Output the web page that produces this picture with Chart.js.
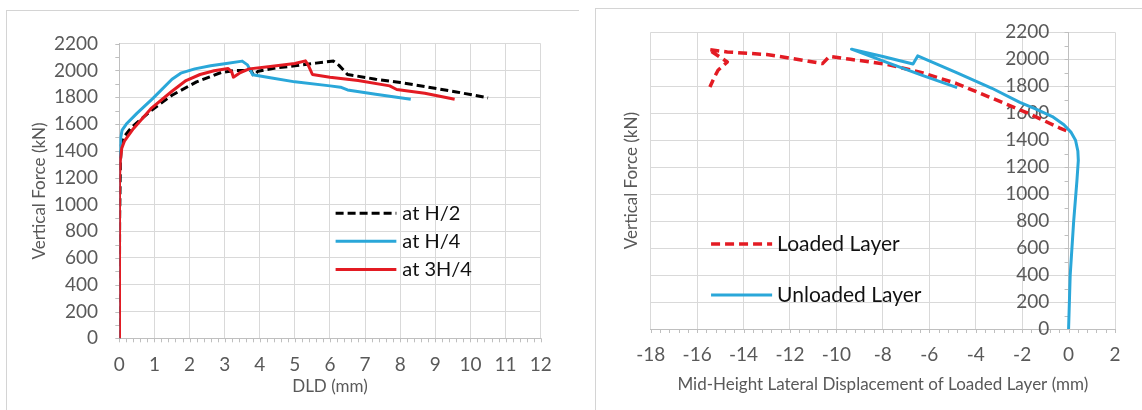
<!DOCTYPE html>
<html>
<head>
<meta charset="utf-8">
<script src="https://cdn.jsdelivr.net/npm/chart.js@4.4.1/dist/chart.umd.min.js"></script>
<style>
  html, body { margin: 0; padding: 0; background: #fff; overflow: hidden; }
  body { width: 1142px; height: 410px; position: relative; }
  .panel { position: absolute; border-left: 1px solid #d4d4d4; border-top: 1px solid #d4d4d4; }
  #left-panel { left: 6px; top: 10px; width: 572px; height: 420px; }
  #right-panel { left: 595px; top: 8px; width: 560px; height: 420px; }
  canvas { position: absolute; left: 0; top: 0; }
</style>
</head>
<body>
<div class="panel" id="left-panel"><canvas id="dld-chart" width="560" height="400"></canvas></div>
<div class="panel" id="right-panel"><canvas id="lateral-chart" width="546" height="400"></canvas></div>
<script>
// Left chart: vertical force vs DLD
const h2X  = [0, 0.01, 0.03, 0.06, 0.12, 0.35, 0.9, 1.5, 2.2, 2.9, 3.3, 3.75, 3.83, 3.95, 4.5, 5.0, 5.6, 6.1, 6.25, 6.5, 7.3, 8.0, 8.7, 9.6, 10.5];
const h2Y  = [0, 900, 1300, 1450, 1500, 1575, 1700, 1815, 1915, 1985, 2000, 2000, 1960, 1995, 2020, 2035, 2055, 2070, 2040, 1970, 1935, 1910, 1880, 1840, 1795];
const h4X  = [0, 0, 0.01, 0.02, 0.04, 0.08, 0.2, 0.5, 0.95, 1.5, 1.75, 2.15, 2.6, 3.0, 3.5, 3.65, 3.8, 4.3, 5.0, 6.0, 6.3, 6.5, 7.3, 8.3];
const h4Y  = [0, 800, 1250, 1400, 1500, 1555, 1600, 1680, 1790, 1935, 1980, 2012, 2035, 2050, 2070, 2042, 1968, 1945, 1915, 1885, 1875, 1855, 1822, 1785];
const h34X = [0, 0, 0.01, 0.03, 0.07, 0.15, 0.4, 0.9, 1.5, 1.9, 2.3, 2.7, 3.1, 3.2, 3.25, 3.45, 3.7, 4.3, 5.0, 5.3, 5.38, 5.5, 6.0, 6.8, 7.7, 7.9, 8.7, 9.55];
const h34Y = [0, 800, 1200, 1330, 1420, 1475, 1565, 1715, 1845, 1925, 1970, 1998, 2015, 1990, 1950, 1985, 2012, 2030, 2052, 2072, 2040, 1970, 1950, 1925, 1885, 1858, 1830, 1785];

// Right chart: vertical force vs mid-height lateral displacement
const loadedX   = [-0.1, -0.4, -1.75, -3.3, -4.85, -6.4, -7.9, -9.4, -10.3, -10.6, -11.2, -12.5, -13.0, -14.7, -15.5, -14.7, -15.1, -15.25, -15.45];
const loadedY   = [1470, 1492, 1600, 1712, 1822, 1905, 1965, 2000, 2022, 1968, 1985, 2022, 2035, 2054, 2072, 1980, 1919, 1869, 1795];
const unloadedX = [0, 0.07, 0.22, 0.36, 0.42, 0.4, 0.3, 0.1, -0.2, -0.7, -1.4, -2.1, -3.3, -4.8, -6.5, -6.7, -8.0, -9.35, -7.8, -6.3, -4.8];
const unloadedY = [0, 400, 800, 1100, 1250, 1320, 1400, 1460, 1515, 1575, 1630, 1680, 1785, 1900, 2025, 1965, 2020, 2075, 1975, 1880, 1790];

const toPoints = (xs, ys) => xs.map((x, i) => ({ x: x, y: ys[i] }));

const FONT = 'Lato, "Open Sans", sans-serif';
const TEXT = '#595959';
const GRID = '#d9d9d9';
const AXIS = '#bfbfbf';
const BLUE = '#2aa7d9';
const RED = '#e31b23';

Chart.defaults.font.family = FONT;
Chart.defaults.color = TEXT;

// small minor tick marks along the axes, like the spreadsheet original
const minorTicks = {
  id: 'minorTicks',
  beforeDatasetsDraw(chart, args, opts) {
    const { ctx, chartArea } = chart;
    const x = chart.scales.x, y = chart.scales.y;
    const yAxisX = opts.yAt === undefined ? chartArea.left : x.getPixelForValue(opts.yAt);
    ctx.save();
    ctx.strokeStyle = AXIS;
    ctx.lineWidth = 1;
    ctx.beginPath();
    const nx = Math.round((x.max - x.min) / opts.xStep);
    for (let i = 0; i <= nx; i++) {
      const px = Math.round(x.getPixelForValue(x.min + i * opts.xStep)) + 0.5;
      ctx.moveTo(px, chartArea.bottom);
      ctx.lineTo(px, chartArea.bottom + opts.len);
    }
    const ny = Math.round((y.max - y.min) / opts.yStep);
    for (let i = 0; i <= ny; i++) {
      const py = Math.round(y.getPixelForValue(y.min + i * opts.yStep)) + 0.5;
      ctx.moveTo(yAxisX - opts.len, py);
      ctx.lineTo(yAxisX, py);
    }
    ctx.stroke();
    ctx.restore();
  }
};

// legend drawn inside the plot area
const insideLegend = {
  id: 'insideLegend',
  afterDatasetsDraw(chart, args, opts) {
    const { ctx } = chart;
    const x = chart.scales.x, y = chart.scales.y;
    const x1 = x.getPixelForValue(opts.from);
    const x2 = x.getPixelForValue(opts.to);
    ctx.save();
    chart.data.datasets.forEach(function (ds, i) {
      const py = y.getPixelForValue(opts.rows[i]);
      ctx.beginPath();
      ctx.setLineDash(ds.borderDash || []);
      ctx.strokeStyle = ds.borderColor;
      ctx.lineWidth = ds.borderWidth;
      ctx.moveTo(x1, py);
      ctx.lineTo(x2, py);
      ctx.stroke();
      ctx.setLineDash([]);
      ctx.fillStyle = '#111';
      ctx.font = opts.fontSize + 'px ' + FONT;
      ctx.textBaseline = 'middle';
      ctx.textAlign = 'left';
      ctx.fillText(ds.label, x2 + opts.gap, py);
    });
    ctx.restore();
  }
};

const plain = (v) => String(v);

new Chart(document.getElementById('dld-chart'), {
  type: 'scatter',
  data: {
    datasets: [
      { label: 'at H/2', data: toPoints(h2X, h2Y), borderColor: '#000', borderDash: [8, 4], borderWidth: 3, showLine: true, order: 2 },
      { label: 'at H/4', data: toPoints(h4X, h4Y), borderColor: BLUE, borderWidth: 3, showLine: true, order: 1 },
      { label: 'at 3H/4', data: toPoints(h34X, h34Y), borderColor: RED, borderWidth: 3, showLine: true, order: 0 }
    ]
  },
  options: {
    responsive: false,
    animation: false,
    devicePixelRatio: 1,
    elements: { point: { radius: 0 }, line: { tension: 0, borderJoinStyle: 'round' } },
    layout: { padding: { left: 0, top: 13, right: 16.3, bottom: 2.7 } },
    plugins: {
      legend: { display: false },
      tooltip: { enabled: false },
      minorTicks: { xStep: 0.2, yStep: 100, len: 4 },
      insideLegend: { from: 6.16, to: 7.89, rows: [934, 724, 513], gap: 6, fontSize: 20 }
    },
    scales: {
      x: {
        type: 'linear', min: 0, max: 12,
        ticks: { stepSize: 1, padding: 15.3, font: { size: 19 }, autoSkip: false, maxRotation: 0, callback: plain },
        grid: { color: GRID, drawTicks: false },
        border: { color: AXIS },
        title: { display: true, text: 'DLD (mm)', font: { size: 17 }, padding: { top: 0, bottom: 11.1 } },
        afterFit: (s) => { s.height = 70; }
      },
      y: {
        type: 'linear', min: 0, max: 2200,
        ticks: { stepSize: 200, padding: 21.3, font: { size: 19 }, autoSkip: false, callback: plain },
        grid: { color: GRID, drawTicks: false },
        border: { color: AXIS },
        title: { display: true, text: 'Vertical Force (kN)', font: { size: 17 }, padding: { top: 22.8, bottom: 0 } },
        afterFit: (s) => { s.width = 112.3; }
      }
    }
  },
  plugins: [minorTicks, insideLegend]
});

new Chart(document.getElementById('lateral-chart'), {
  type: 'scatter',
  data: {
    datasets: [
      { label: 'Loaded Layer', data: toPoints(loadedX, loadedY), borderColor: RED, borderDash: [9, 5], borderWidth: 3.5, showLine: true, order: 1 },
      { label: 'Unloaded Layer', data: toPoints(unloadedX, unloadedY), borderColor: BLUE, borderWidth: 3, showLine: true, order: 0 }
    ]
  },
  options: {
    responsive: false,
    animation: false,
    devicePixelRatio: 1,
    elements: { point: { radius: 0 }, line: { tension: 0, borderJoinStyle: 'round' } },
    layout: { padding: { left: 0, top: 23.3, right: 27, bottom: 10 } },
    plugins: {
      legend: { display: false },
      tooltip: { enabled: false },
      minorTicks: { xStep: 0.4, yStep: 100, len: 4, yAt: 0 },
      insideLegend: { from: -15.4, to: -12.77, rows: [630, 252], gap: 5, fontSize: 21 }
    },
    scales: {
      x: {
        type: 'linear', min: -18, max: 2,
        ticks: { stepSize: 2, padding: 14.6, font: { size: 19 }, autoSkip: false, maxRotation: 0, callback: plain },
        grid: { color: GRID, drawTicks: false },
        border: { color: AXIS },
        title: { display: true, text: 'Mid-Height Lateral Displacement of Loaded Layer (mm)', font: { size: 17 }, padding: { top: 0, bottom: 3.8 } },
        afterFit: (s) => { s.height = 70; }
      },
      // force axis crossing at zero displacement
      y: {
        type: 'linear', min: 0, max: 2200, position: { x: 0 },
        ticks: { display: false, stepSize: 200 },
        grid: { color: GRID, drawTicks: false },
        border: { color: AXIS }
      },
      // tick labels of the force axis, sitting just left of the crossing
      yLabels: {
        type: 'linear', axis: 'y', min: 0, max: 2200, position: { x: -0.83 },
        ticks: { stepSize: 200, font: { size: 19 }, autoSkip: false, callback: plain },
        grid: { display: false, drawTicks: false },
        border: { display: false }
      },
      yTitle: {
        type: 'linear', axis: 'y', position: 'left', min: 0, max: 1,
        ticks: { display: false },
        grid: { display: false, drawTicks: false },
        border: { display: false },
        title: { display: true, text: 'Vertical Force (kN)', font: { size: 17 }, padding: { top: 25.8, bottom: 0 } },
        afterFit: (s) => { s.width = 54.7; }
      }
    }
  },
  plugins: [minorTicks, insideLegend]
});
</script>
</body>
</html>
